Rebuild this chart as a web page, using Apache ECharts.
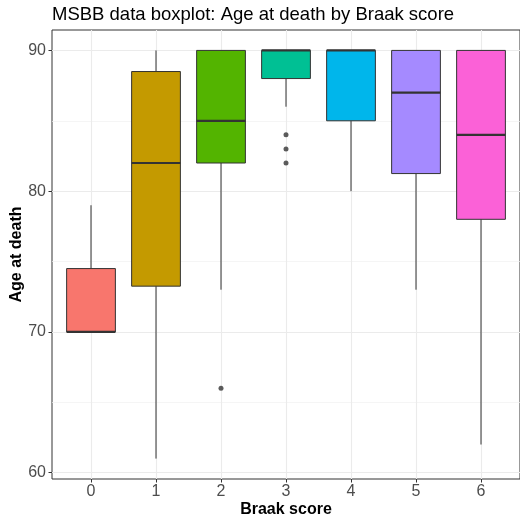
<!DOCTYPE html>
<html>
<head>
<meta charset="utf-8">
<script src="https://cdn.jsdelivr.net/npm/echarts@6/dist/echarts.min.js"></script>
<style>
  html, body { margin: 0; padding: 0; background: #fff; }
  #chart { width: 520px; height: 524px; }
</style>
</head>
<body>
<div id="chart"></div>
<script>
// Braak score groups and age-at-death summaries
const categories = [0, 1, 2, 3, 4, 5, 6];
const whiskerLow = [70, 61, 73, 86, 80, 73, 62];
const q1Values   = [70, 73.25, 82, 88, 85, 81.25, 78];
const medians    = [70, 82, 85, 90, 90, 87, 84];
const q3Values   = [74.5, 88.5, 90, 90, 90, 90, 90];
const whiskerHigh = [79, 90, 90, 90, 90, 90, 90];
const outlierGroups = [2, 3, 3, 3];
const outlierAges   = [66, 84, 83, 82];
const yTicks = [60, 70, 80, 90];
const yMinorTicks = [65, 75, 85];
const groupColors = ['#F8766D', '#C49A00', '#53B400', '#00C094', '#00B6EB', '#A58AFF', '#FB61D7'];

const FONT = '"Liberation Sans", Arial, Helvetica, sans-serif';
const INK = '#333333';

const boxData = categories.map((c, i) => ({
  value: [c, whiskerLow[i], q1Values[i], medians[i], q3Values[i], whiskerHigh[i]],
  itemStyle: { color: groupColors[i] }
}));
const outlierData = outlierGroups.map((g, i) => [g, outlierAges[i]]);

function renderBox(params, api) {
  const x = api.value(0);
  const pLo = api.coord([x, api.value(1)]);
  const pQ1 = api.coord([x, api.value(2)]);
  const pMed = api.coord([x, api.value(3)]);
  const pQ3 = api.coord([x, api.value(4)]);
  const pHi = api.coord([x, api.value(5)]);
  const w = api.size([1, 0])[0] * 0.75;
  const cx = pMed[0];
  const stroke = { stroke: INK, lineWidth: 1 };
  return {
    type: 'group',
    children: [
      { type: 'line', shape: { x1: cx, y1: pQ3[1], x2: cx, y2: pHi[1] }, style: stroke },
      { type: 'line', shape: { x1: cx, y1: pQ1[1], x2: cx, y2: pLo[1] }, style: stroke },
      { type: 'rect', shape: { x: cx - w / 2, y: pQ3[1], width: w, height: pQ1[1] - pQ3[1] },
        style: { fill: api.visual('color'), stroke: INK, lineWidth: 1 } },
      { type: 'line', shape: { x1: cx - w / 2, y1: pMed[1], x2: cx + w / 2, y2: pMed[1] },
        style: { stroke: INK, lineWidth: 2.2 } }
    ]
  };
}

const chart = echarts.init(document.getElementById('chart'), null, { renderer: 'canvas' });
chart.setOption({
  animation: false,
  backgroundColor: '#ffffff',
  title: {
    text: 'MSBB data boxplot: Age at death by Braak score',
    left: 52, top: 5, padding: 0,
    textStyle: { fontFamily: FONT, fontSize: 18.5, fontWeight: 'normal', color: '#000' }
  },
  grid: {
    left: 52, right: 0, top: 30, bottom: 45,
    outerBoundsMode: 'none', containLabel: false,
    show: true, borderColor: INK, borderWidth: 1, backgroundColor: '#fff'
  },
  xAxis: {
    type: 'value', min: -0.6, max: 6.6,
    name: 'Braak score', nameLocation: 'middle', nameGap: 23, nameMoveOverlap: false,
    nameTextStyle: { fontFamily: FONT, fontSize: 16, fontWeight: 'bold', color: '#000' },
    axisLine: { show: false, onZero: false },
    axisTick: { show: true, length: 3.5, customValues: categories, lineStyle: { color: INK, width: 1 } },
    axisLabel: { customValues: categories, margin: 5, fontFamily: FONT, fontSize: 16, color: '#4D4D4D' },
    splitLine: { show: true, lineStyle: { color: '#EBEBEB', width: 1.1 } }
  },
  yAxis: [
    {
      type: 'value', min: 59.55, max: 91.45,
      name: 'Age at death', nameLocation: 'middle', nameGap: 27, nameMoveOverlap: false,
      nameTextStyle: { fontFamily: FONT, fontSize: 16, fontWeight: 'bold', color: '#000' },
      axisLine: { show: false, onZero: false },
      axisTick: { show: true, length: 3.5, customValues: yTicks, lineStyle: { color: INK, width: 1 } },
      axisLabel: { customValues: yTicks, margin: 6, fontFamily: FONT, fontSize: 16, color: '#4D4D4D' },
      splitLine: { show: true, lineStyle: { color: '#EBEBEB', width: 1.1 } }
    },
    {
      type: 'value', min: 59.55, max: 91.45, position: 'left',
      axisLine: { show: false, onZero: false },
      axisTick: { show: false, customValues: yMinorTicks },
      axisLabel: { show: false, customValues: yMinorTicks },
      splitLine: { show: true, lineStyle: { color: '#F1F1F1', width: 0.7 } }
    }
  ],
  series: [
    {
      type: 'custom',
      renderItem: renderBox,
      encode: { x: 0, y: [1, 2, 3, 4, 5] },
      data: boxData,
      z: 3
    },
    {
      type: 'scatter',
      data: outlierData,
      symbol: 'circle',
      symbolSize: 5,
      itemStyle: { color: INK },
      z: 4
    }
  ]
});
</script>
</body>
</html>
